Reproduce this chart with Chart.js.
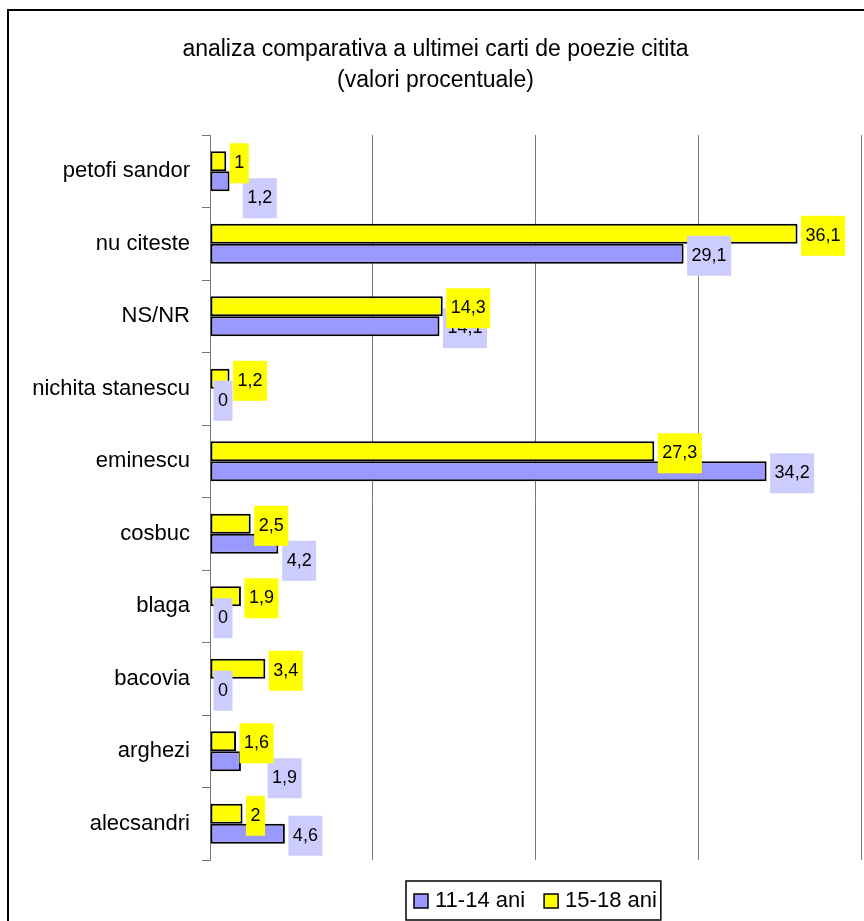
<!DOCTYPE html>
<html>
<head>
<meta charset="utf-8">
<script src="https://cdn.jsdelivr.net/npm/chart.js@4/dist/chart.umd.min.js"></script>
<style>
  body { margin: 0; background: #fff; }
  canvas { display: block; }
</style>
</head>
<body>
<canvas id="grafic" width="864" height="921"></canvas>
<script>
// Datele graficului
var categorii = ['petofi sandor', 'nu citeste', 'NS/NR', 'nichita stanescu', 'eminescu',
  'cosbuc', 'blaga', 'bacovia', 'arghezi', 'alecsandri'];
var ani11_14 = [1.2, 29.1, 14.1, 0, 34.2, 4.2, 0, 0, 1.9, 4.6];
var ani15_18 = [1, 36.1, 14.3, 1.2, 27.3, 2.5, 1.9, 3.4, 1.6, 2];
var titlu = ['analiza comparativa a ultimei carti de poezie citita', '(valori procentuale)'];
var axaMax = 40;
var axaPas = 10;

var FONT = '"Liberation Sans", Arial, sans-serif';

function formatValoare(v) {
  return String(v).replace('.', ',');
}

// Fundal alb si rama graficului
var ramaPlugin = {
  id: 'rama',
  beforeDraw: function(chart) {
    var c = chart.ctx;
    c.save();
    c.fillStyle = '#fff';
    c.fillRect(0, 0, chart.width, chart.height);
    c.restore();
  },
  afterDraw: function(chart) {
    var c = chart.ctx;
    c.save();
    c.strokeStyle = '#000';
    c.lineWidth = 2;
    c.beginPath();
    c.moveTo(8, chart.height);
    c.lineTo(8, 10);
    c.lineTo(chart.width, 10);
    c.stroke();
    c.restore();
  }
};

// Etichetele cu valori, in casute colorate
var etichetePlugIn = {
  id: 'etichete',
  afterDatasetsDraw: function(chart) {
    var c = chart.ctx;
    c.save();
    c.font = '18px ' + FONT;
    c.textBaseline = 'middle';
    c.textAlign = 'left';
    var galben = chart.getDatasetMeta(0).data;
    var albastru = chart.getDatasetMeta(1).data;
    var dsG = chart.data.datasets[0];
    var dsA = chart.data.datasets[1];

    function casuta(bar, v) {
      var txt = formatValoare(v);
      var w = c.measureText(txt).width + 9;
      return { txt: txt, x: bar.x + 3.5, y: bar.y + 2 - 20, w: w, h: 40 };
    }
    function deseneaza(b, fond) {
      c.fillStyle = fond;
      c.fillRect(b.x, b.y, b.w, b.h);
      c.fillStyle = '#000';
      c.fillText(b.txt, b.x + 4.5, b.y + b.h / 2);
    }

    var casuteG = [];
    for (var i = 0; i < categorii.length; i++) {
      var bg = casuta(galben[i], dsG.data[i]);
      var ba = casuta(albastru[i], dsA.data[i]);
      // la valori mici, casutele care se suprapun se muta in jos
      var suprapus = ba.x < bg.x + bg.w && bg.x < ba.x + ba.w;
      if (suprapus && dsG.data[i] < 10 && dsA.data[i] < 10) {
        ba.y += 15;
        ba.x = Math.max(ba.x, bg.x + bg.w - 6);
      }
      deseneaza(ba, '#CCCCFF');
      casuteG.push(bg);
    }
    casuteG.forEach(function(b) { deseneaza(b, '#FFFF00'); });
    c.restore();
  }
};

// Legenda cu chenar, sub grafic
var legendaPlugin = {
  id: 'legenda',
  afterDraw: function(chart) {
    var c = chart.ctx;
    c.save();
    c.font = '22px ' + FONT;
    c.textBaseline = 'middle';
    var x = 406, top = 881, h = 39;
    var cy = top + h / 2 + 0.5;
    var ds = chart.data.datasets.slice().reverse();
    var cursor = x + 8;
    ds.forEach(function(d, k) {
      c.fillStyle = d.backgroundColor;
      c.fillRect(cursor, cy - 7, 14, 14);
      c.strokeStyle = '#000';
      c.lineWidth = 1.5;
      c.strokeRect(cursor, cy - 7, 14, 14);
      cursor += 14 + 7;
      c.fillStyle = '#000';
      c.fillText(d.label, cursor, cy);
      cursor += c.measureText(d.label).width;
      if (k < ds.length - 1) cursor += 19;
    });
    c.strokeStyle = '#000';
    c.lineWidth = 1.5;
    c.strokeRect(x, top, cursor + 4 - x, h);
    c.restore();
  }
};

var ctx = document.getElementById('grafic').getContext('2d');
var grafic = new Chart(ctx, {
  type: 'bar',
  data: {
    labels: categorii,
    datasets: [{
      label: '15-18 ani',
      data: ani15_18,
      backgroundColor: '#FFFF00',
      borderColor: '#000',
      borderWidth: 2,
      borderSkipped: false
    }, {
      label: '11-14 ani',
      data: ani11_14,
      backgroundColor: '#9999FF',
      borderColor: '#000',
      borderWidth: 2,
      borderSkipped: false
    }]
  },
  options: {
    indexAxis: 'y',
    responsive: false,
    animation: false,
    categoryPercentage: 0.55,
    barPercentage: 1,
    layout: { padding: { left: 10, right: 3, top: 0, bottom: 61 } },
    plugins: {
      legend: { display: false },
      tooltip: { enabled: false },
      title: {
        display: true,
        text: titlu,
        color: '#000',
        font: { family: FONT, size: 23, weight: 'normal', lineHeight: 31 / 23 },
        padding: { top: 34.5, bottom: 38.5 }
      }
    },
    scales: {
      x: {
        min: 0,
        max: axaMax,
        ticks: { display: false, stepSize: axaPas },
        grid: { color: '#777', lineWidth: 1, drawTicks: false },
        border: { display: false },
        afterFit: function(axa) { axa.height = 0; }
      },
      y: {
        ticks: { color: '#000', padding: 12, font: { family: FONT, size: 22 } },
        grid: { drawOnChartArea: false, drawTicks: true, tickLength: 8, color: '#777', offset: true },
        border: { display: true, color: '#777', width: 1 },
        afterFit: function(axa) { axa.width = 200; }
      }
    }
  },
  plugins: [ramaPlugin, etichetePlugIn, legendaPlugin]
});
</script>
</body>
</html>
